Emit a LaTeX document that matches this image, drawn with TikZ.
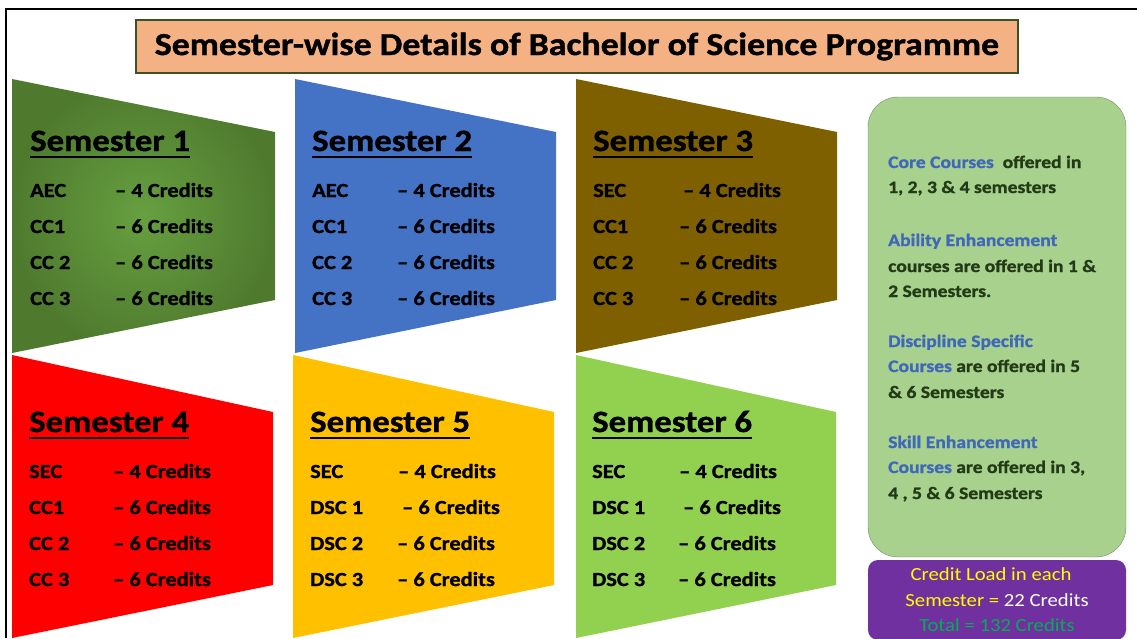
\documentclass[tikz,border=0pt]{standalone}
\usepackage{fontspec}
\setmainfont{Carlito}[FakeStretch=1.12, BoldFeatures={FakeBold=1.2}]
\usepackage{tikz}
\usetikzlibrary{positioning}
\usetikzlibrary{calc}

\definecolor{titlefill}{HTML}{F4B183}
\definecolor{titleline}{HTML}{3B5323}
\definecolor{semone}{HTML}{4F7A2E}
\definecolor{semonelight}{HTML}{66A040}
\definecolor{semtwo}{HTML}{4472C4}
\definecolor{semthree}{HTML}{7F6000}
\definecolor{semfour}{HTML}{FF0000}
\definecolor{semfive}{HTML}{FFC000}
\definecolor{semsix}{HTML}{92D050}
\definecolor{notefill}{HTML}{A9D18E}
\definecolor{noteline}{HTML}{6E8F63}
\definecolor{noteblue}{HTML}{3F68BA}
\definecolor{notetext}{HTML}{233A17}
\definecolor{loadfill}{HTML}{7030A0}
\definecolor{loadgreen}{HTML}{00B050}
\definecolor{loadyellow}{HTML}{FFFF00}

\begin{document}
\begin{tikzpicture} [
   x=1pt, y=-1pt,                 % picture measured from the top left corner
   node distance=36pt,
   ]
% -------------------------------------------------
\tikzset{
  base/.style={inner sep=0pt, anchor=base west},
  heading/.style={base, font=\fontsize{31}{31}\selectfont\bfseries},
  item/.style={base, font=\fontsize{20}{20}\selectfont\bfseries},
  uline/.style={line width=2pt},
  note/.style={base, font=\fontsize{17.5}{17.5}\selectfont\bfseries, text=notetext},
  load/.style={inner sep=0pt, anchor=base, font=\fontsize{18.5}{18.5}\selectfont},
}
    \useasboundingbox (0,0) rectangle (1137,638);
    \draw [line width=2pt] (6,638) -- (6,9) -- (1137,9);

    \node [draw=titleline, line width=1.5pt, fill=titlefill, minimum width=882pt, minimum height=53pt,
           font=\fontsize{32}{32}\selectfont\bfseries] (title) at (577,46.5)
          {Semester-wise Details of Bachelor of Science Programme};

    % semester shapes
    \shade [inner color=semonelight, outer color=semone] (12,79) -- (275,132) -- (275,300) -- (12,353) -- cycle;
    \fill [semtwo]   (295,79) -- (556,132) -- (556,300) -- (295,353) -- cycle;
    \fill [semthree] (576,79) -- (837,132) -- (837,300) -- (576,353) -- cycle;
    \fill [semfour]  (12,355) -- (273,412) -- (273,585) -- (12,638) -- cycle;
    \fill [semfive]  (293,355) -- (554,412) -- (554,585) -- (293,638) -- cycle;
    \fill [semsix]   (576,355) -- (836,412) -- (836,585) -- (576,638) -- cycle;

    % Semester 1
    \node [heading] (h1) at (30,151) {Semester 1};
    \node [below=46pt of h1.base west, item] (a11) {AEC};
    \node [below=of a11.base west, item] (a12) {CC1};
    \node [below=of a12.base west, item] (a13) {CC 2};
    \node [below=of a13.base west, item] (a14) {CC 3};
    \node [item] (c11) at ([xshift=85pt]a11.base west) {– 4 Credits};
    \node [item] (c12) at ([xshift=85pt]a12.base west) {– 6 Credits};
    \node [item] (c13) at ([xshift=85pt]a13.base west) {– 6 Credits};
    \node [item] (c14) at ([xshift=85pt]a14.base west) {– 6 Credits};

    % Semester 2
    \node [heading] (h2) at (312,151) {Semester 2};
    \node [below=46pt of h2.base west, item] (a21) {AEC};
    \node [below=of a21.base west, item] (a22) {CC1};
    \node [below=of a22.base west, item] (a23) {CC 2};
    \node [below=of a23.base west, item] (a24) {CC 3};
    \node [item] (c21) at ([xshift=85pt]a21.base west) {– 4 Credits};
    \node [item] (c22) at ([xshift=85pt]a22.base west) {– 6 Credits};
    \node [item] (c23) at ([xshift=85pt]a23.base west) {– 6 Credits};
    \node [item] (c24) at ([xshift=85pt]a24.base west) {– 6 Credits};

    % Semester 3
    \node [heading] (h3) at (593,151) {Semester 3};
    \node [below=46pt of h3.base west, item] (a31) {SEC};
    \node [below=of a31.base west, item] (a32) {CC1};
    \node [below=of a32.base west, item] (a33) {CC 2};
    \node [below=of a33.base west, item] (a34) {CC 3};
    \node [item] (c31) at ([xshift=90pt]a31.base west) {– 4 Credits};
    \node [item] (c32) at ([xshift=86pt]a32.base west) {– 6 Credits};
    \node [item] (c33) at ([xshift=86pt]a33.base west) {– 6 Credits};
    \node [item] (c34) at ([xshift=86pt]a34.base west) {– 6 Credits};

    % Semester 4
    \node [heading] (h4) at (29,432) {Semester 4};
    \node [below=46pt of h4.base west, item] (a41) {SEC};
    \node [below=of a41.base west, item] (a42) {CC1};
    \node [below=of a42.base west, item] (a43) {CC 2};
    \node [below=of a43.base west, item] (a44) {CC 3};
    \node [item] (c41) at ([xshift=84pt]a41.base west) {– 4 Credits};
    \node [item] (c42) at ([xshift=84pt]a42.base west) {– 6 Credits};
    \node [item] (c43) at ([xshift=84pt]a43.base west) {– 6 Credits};
    \node [item] (c44) at ([xshift=84pt]a44.base west) {– 6 Credits};

    % Semester 5
    \node [heading] (h5) at (310,432) {Semester 5};
    \node [below=46pt of h5.base west, item] (a51) {SEC};
    \node [below=of a51.base west, item] (a52) {DSC 1};
    \node [below=of a52.base west, item] (a53) {DSC 2};
    \node [below=of a53.base west, item] (a54) {DSC 3};
    \node [item] (c51) at ([xshift=88pt]a51.base west) {– 4 Credits};
    \node [item] (c52) at ([xshift=92pt]a52.base west) {– 6 Credits};
    \node [item] (c53) at ([xshift=87pt]a53.base west) {– 6 Credits};
    \node [item] (c54) at ([xshift=87pt]a54.base west) {– 6 Credits};

    % Semester 6
    \node [heading] (h6) at (592,432) {Semester 6};
    \node [below=46pt of h6.base west, item] (a61) {SEC};
    \node [below=of a61.base west, item] (a62) {DSC 1};
    \node [below=of a62.base west, item] (a63) {DSC 2};
    \node [below=of a63.base west, item] (a64) {DSC 3};
    \node [item] (c61) at ([xshift=87pt]a61.base west) {– 4 Credits};
    \node [item] (c62) at ([xshift=91pt]a62.base west) {– 6 Credits};
    \node [item] (c63) at ([xshift=86pt]a63.base west) {– 6 Credits};
    \node [item] (c64) at ([xshift=86pt]a64.base west) {– 6 Credits};

    \draw [uline] ([yshift=-6pt]h1.base west) -- ([yshift=-6pt]h1.base east);
    \draw [uline] ([yshift=-6pt]h2.base west) -- ([yshift=-6pt]h2.base east);
    \draw [uline] ([yshift=-6pt]h3.base west) -- ([yshift=-6pt]h3.base east);
    \draw [uline] ([yshift=-6pt]h4.base west) -- ([yshift=-6pt]h4.base east);
    \draw [uline] ([yshift=-6pt]h5.base west) -- ([yshift=-6pt]h5.base east);
    \draw [uline] ([yshift=-6pt]h6.base west) -- ([yshift=-6pt]h6.base east);

    % notes on the right
    \draw [noteline, fill=notefill, rounded corners=30pt] (868,97) rectangle (1126,557);
    \node [note] (n11) at (888,168) {\textcolor{noteblue}{Core Courses}\ \ offered in};
    \node [note] (n12) at (888,193) {1, 2, 3 \& 4 semesters};
    \node [note] (n21) at (888,246) {\textcolor{noteblue}{Ability Enhancement}};
    \node [note] (n22) at (888,272) {courses are offered in 1 \&};
    \node [note] (n23) at (888,297) {2 Semesters.};
    \node [note] (n31) at (888,347) {\textcolor{noteblue}{Discipline Specific}};
    \node [note] (n32) at (888,372) {\textcolor{noteblue}{Courses} are offered in 5};
    \node [note] (n33) at (888,398) {\& 6 Semesters};
    \node [note] (n41) at (888,448) {\textcolor{noteblue}{Skill Enhancement}};
    \node [note] (n42) at (888,473) {\textcolor{noteblue}{Courses} are offered in 3,};
    \node [note] (n43) at (888,499) {4 , 5 \& 6 Semesters};

    \fill [loadfill, rounded corners=10pt] (868,560) rectangle (1126,640);
    \node [load, text=loadyellow] (l1) at (991,580) {Credit Load in each};
    \node [load] (l2) at (997,606) {\textcolor{loadyellow}{Semester =} \textcolor{white}{22 Credits}};
    \node [load, text=loadgreen] (l3) at (997,631) {Total = 132 Credits};

\end{tikzpicture}
\end{document}
